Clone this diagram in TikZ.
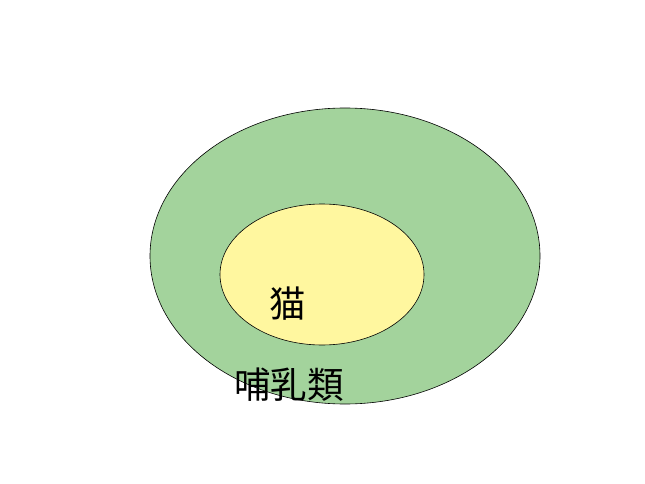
\documentclass[tikz,border=0pt]{standalone}
\usepackage{fontspec}
\newfontfamily\cjk{Noto Sans CJK JP}
\definecolor{mammalgreen}{HTML}{A3D39C}
\definecolor{catyellow}{HTML}{FFF79F}

\begin{document}
\begin{tikzpicture}[x=1pt,y=-1pt,
 set/.style={draw=black,line width=0.6pt},
 lbl/.style={font=\cjk\fontsize{36.5}{36.5}\selectfont,inner sep=0pt}]

\useasboundingbox (0,0) rectangle (645,484);

% outer and inner sets
\draw[set,fill=mammalgreen] (345,256) ellipse [x radius=195,y radius=148];
\draw[set,fill=catyellow] (322,274.5) ellipse [x radius=102,y radius=70.5];

\node[lbl] (cat) at (288,304) {猫};
\node[lbl] (mammal) at (289,385) {哺乳類};
\end{tikzpicture}
\end{document}
